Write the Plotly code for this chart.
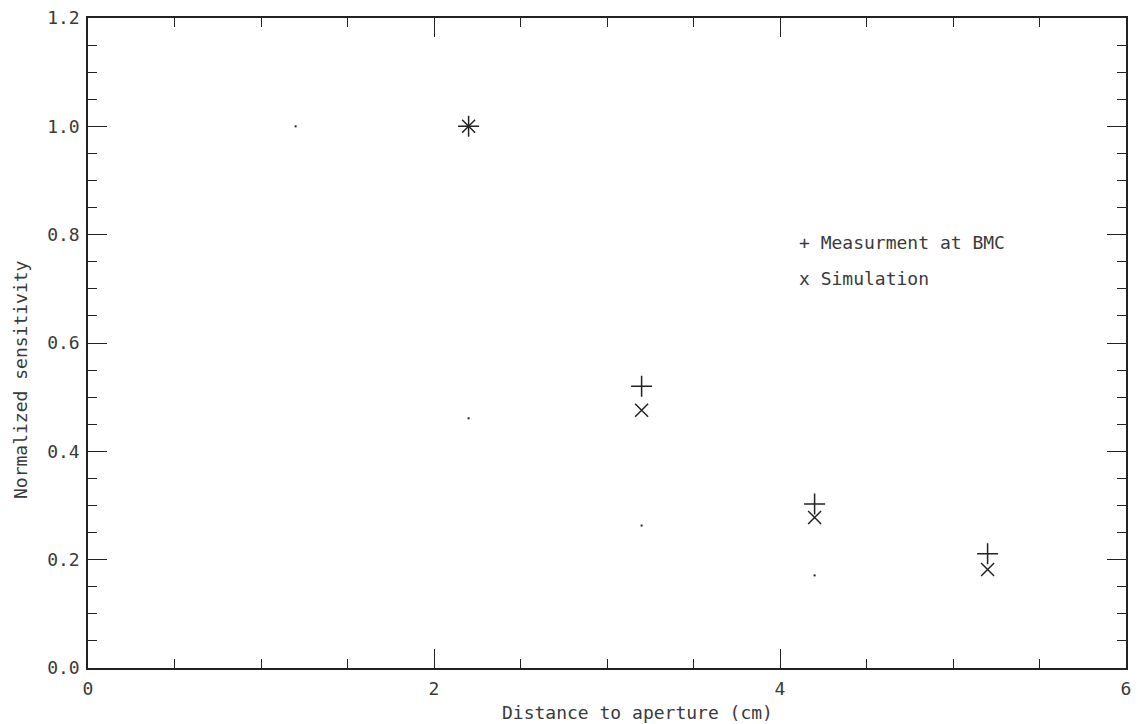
import plotly.graph_objects as go

# Data
distance = [2.2, 3.2, 4.2, 5.2]
measurement = [1.0, 0.52, 0.303, 0.211]
simulation = [1.0, 0.476, 0.278, 0.182]
dot_x = [1.2, 2.2, 3.2, 4.2]
dot_y = [1.0, 0.461, 0.263, 0.171]

x_ticks = [0, 2, 4, 6]
x_labels = ["0", "2", "4", "6"]
y_ticks = [0.0, 0.2, 0.4, 0.6, 0.8, 1.0, 1.2]
y_labels = ["0.0", "0.2", "0.4", "0.6", "0.8", "1.0", "1.2"]

legend_labels = ["+ Measurment at BMC", "x Simulation"]
x_title = "Distance to aperture (cm)"
y_title = "Normalized sensitivity"

ink = "#222222"
font = dict(family="DejaVu Sans Mono", size=18, color="#3a3a3a")

fig = go.Figure()
fig.add_trace(go.Scatter(x=distance, y=measurement, mode="markers",
                         marker=dict(symbol="cross-thin", size=15,
                                     line=dict(width=1.5, color=ink)),
                         showlegend=False))
fig.add_trace(go.Scatter(x=distance, y=simulation, mode="markers",
                         marker=dict(symbol="x-thin", size=13,
                                     line=dict(width=1.5, color=ink)),
                         showlegend=False))
fig.add_trace(go.Scatter(x=dot_x, y=dot_y, mode="markers",
                         marker=dict(symbol="square", size=2, color=ink,
                                     line=dict(width=0)),
                         showlegend=False))

for i, t in enumerate(legend_labels):
    fig.add_annotation(x=0.683, y=0.655 - i * 0.055, xref="paper", yref="paper",
                       text=t, showarrow=False, xanchor="left", yanchor="middle",
                       font=font)

fig.add_annotation(x=0.5, y=0, xref="paper", yref="paper", text=x_title,
                   showarrow=False, xanchor="center", yanchor="middle",
                   xshift=30, yshift=-44, font=font)
fig.add_annotation(x=0, y=0.5, xref="paper", yref="paper", text=y_title,
                   showarrow=False, xanchor="center", yanchor="middle",
                   textangle=-90, xshift=-68, yshift=-37, font=font)

axis_common = dict(showgrid=False, zeroline=False, showline=True, linecolor=ink,
                   linewidth=1.5, mirror="ticks", ticks="inside", ticklen=19,
                   tickwidth=1.2, tickcolor=ink, tickfont=font)

fig.update_xaxes(range=[0, 6], tickvals=x_ticks, ticktext=x_labels,
                 ticklabelstandoff=4,
                 minor=dict(dtick=0.5, ticks="inside", ticklen=9, tickcolor=ink, tickwidth=1.2),
                 **axis_common)
fig.update_yaxes(range=[0, 1.2], tickvals=y_ticks, ticktext=y_labels,
                 ticklabelstandoff=3,
                 minor=dict(dtick=0.05, ticks="inside", ticklen=9, tickcolor=ink, tickwidth=1.2),
                 **axis_common)

fig.update_layout(width=1138, height=724, plot_bgcolor="white", paper_bgcolor="white",
                  margin=dict(l=88, r=7, t=14, b=56), font=font)

fig.write_html("out.html")
